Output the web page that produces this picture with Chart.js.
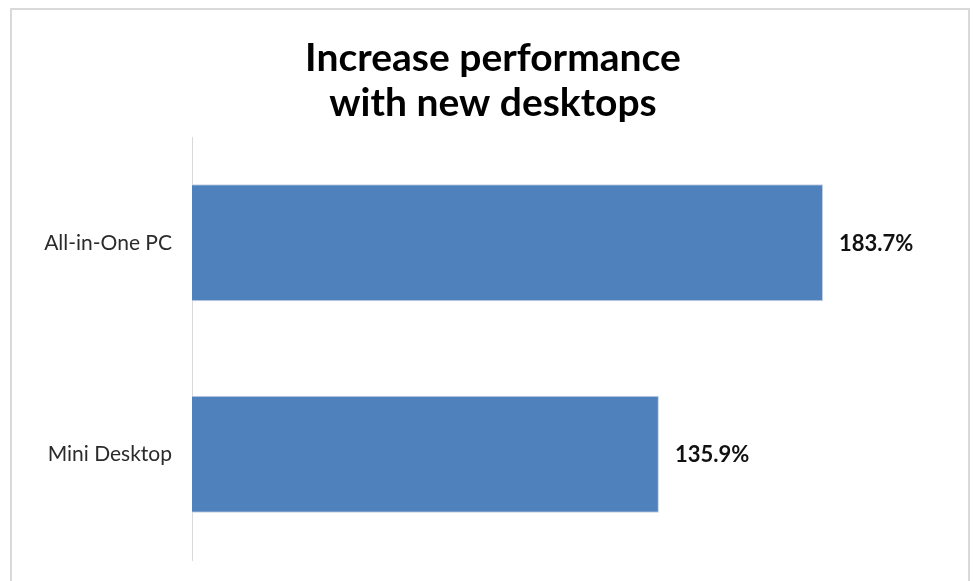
<!DOCTYPE html>
<html>
<head>
<meta charset="utf-8">
<script src="https://cdn.jsdelivr.net/npm/chart.js@4/dist/chart.umd.min.js"></script>
<style>
    html, body { margin: 0; padding: 0; background: #fff; }
    #wrap { position: relative; width: 977px; height: 581px; overflow: hidden; }
    #frame {
        position: absolute; left: 10px; top: 8px; width: 960px; height: 590px;
        border: 2px solid #d9d9d9; box-sizing: border-box;
    }
    #chart { position: absolute; left: 0; top: 0; }
</style>
</head>
<body>
<div id="wrap">
    <div id="frame"></div>
    <canvas id="chart" width="977" height="581"></canvas>
</div>
<script>
    // Data
    const categories = ['All-in-One PC', 'Mini Desktop'];
    const increasePct = [183.7, 135.9];
    const titleLines = ['Increase performance', 'with new desktops'];

    // Draws the value labels at the end of each bar
    const valueLabels = {
        id: 'valueLabels',
        afterDatasetsDraw(chart) {
            const ctx = chart.ctx;
            const meta = chart.getDatasetMeta(0);
            ctx.save();
            ctx.font = 'bold 22px Lato';
            ctx.fillStyle = '#111';
            ctx.textAlign = 'left';
            ctx.textBaseline = 'middle';
            meta.data.forEach((bar, i) => {
                ctx.fillText(increasePct[i].toFixed(1) + '%', bar.x + 16, bar.y + 1);
            });
            ctx.restore();
        }
    };

    const ctx = document.getElementById('chart').getContext('2d');
    new Chart(ctx, {
        type: 'bar',
        data: {
            labels: categories,
            datasets: [{
                data: increasePct,
                backgroundColor: '#4f81bd',
                borderColor: '#c5d2e3',
                borderWidth: 1,
                categoryPercentage: 1,
                barPercentage: 0.553
            }]
        },
        options: {
            indexAxis: 'y',
            responsive: false,
            animation: false,
            layout: { padding: { left: 9, right: 0, top: 0, bottom: 21 } },
            plugins: {
                legend: { display: false },
                tooltip: { enabled: false },
                title: {
                    display: true,
                    text: titleLines,
                    color: '#000',
                    font: { family: 'Lato', size: 39, weight: 'bold', lineHeight: 1.154 },
                    padding: { top: 36, bottom: 11 }
                }
            },
            scales: {
                x: {
                    display: false,
                    min: 0,
                    max: 228.5
                },
                y: {
                    afterFit(scale) {
                        scale.width = 183;
                        // label padding would otherwise push the plot bottom up
                        scale.paddingTop = 0;
                        scale.paddingBottom = 0;
                    },
                    grid: { display: false, drawTicks: false },
                    border: { display: true, color: '#d9d9d9', width: 1 },
                    ticks: {
                        color: '#2b2b2b',
                        padding: 20,
                        font: { family: 'Lato', size: 21 }
                    }
                }
            }
        },
        plugins: [valueLabels]
    });
</script>
</body>
</html>
